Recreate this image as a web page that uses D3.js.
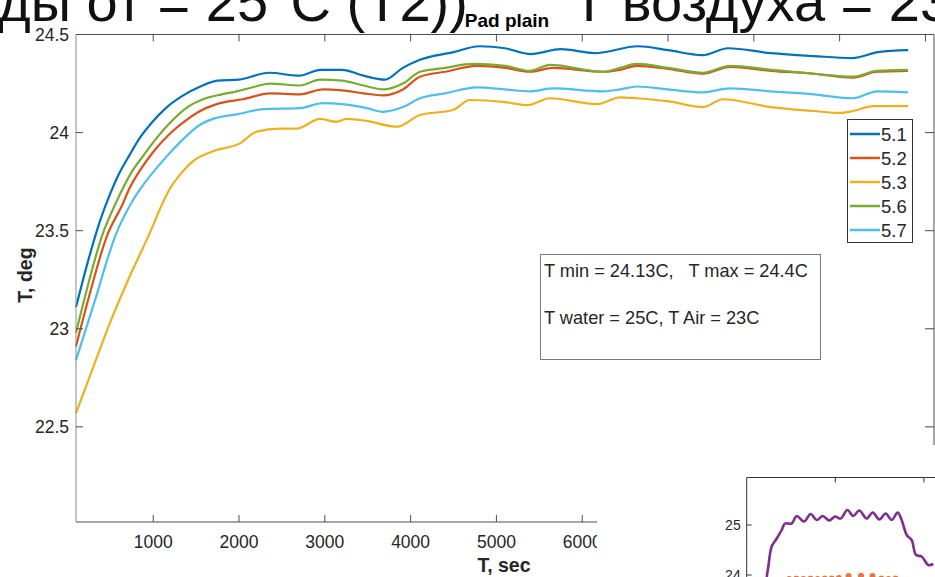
<!DOCTYPE html>
<html>
<head>
<meta charset="utf-8">
<script src="https://cdn.jsdelivr.net/npm/d3@7"></script>
<style>
  html, body { margin: 0; padding: 0; background: #fff; }
  svg { display: block; font-family: "Liberation Sans", Arial, sans-serif; }
  text { white-space: pre; }
</style>
</head>
<body>
<svg id="chart" width="935" height="577"></svg>
<script>
// ---- Series: pad temperature (deg) over time (sec) for each sensor ----
const seriesNames = ["5.1", "5.2", "5.3", "5.6", "5.7"];
const seriesColors = ["#0072BD", "#D95319", "#EDB120", "#77AC30", "#4DBEEE"];

const time51 = [100, 250, 380, 500, 590, 730, 840, 982, 1160, 1350, 1550, 1750, 2000, 2350, 2700, 2950, 3200, 3450, 3700, 3910, 4100, 4500, 4800, 5100, 5400, 5750, 6150, 6650, 7000, 7400, 7700, 8200, 8700, 9150, 9450, 9800];
const temp51 = [23.11, 23.36, 23.55, 23.69, 23.78, 23.89, 23.97, 24.05, 24.13, 24.19, 24.235, 24.265, 24.27, 24.305, 24.29, 24.32, 24.32, 24.29, 24.27, 24.33, 24.37, 24.41, 24.44, 24.43, 24.40, 24.425, 24.405, 24.44, 24.42, 24.395, 24.43, 24.405, 24.39, 24.38, 24.41, 24.42];

const time52 = [100, 240, 458, 648, 706, 850, 997, 1196, 1390, 1507, 1778, 2046, 2361, 2711, 2979, 3200, 3450, 3678, 3910, 4109, 4400, 4774, 5100, 5391, 5660, 6242, 6440, 6638, 7000, 7408, 7722, 8200, 8700, 9156, 9436, 9797];
const temp52 = [22.91, 23.145, 23.47, 23.64, 23.70, 23.81, 23.90, 23.995, 24.065, 24.10, 24.15, 24.17, 24.20, 24.195, 24.22, 24.215, 24.20, 24.19, 24.22, 24.285, 24.31, 24.34, 24.33, 24.31, 24.33, 24.31, 24.32, 24.34, 24.325, 24.30, 24.335, 24.315, 24.30, 24.28, 24.31, 24.315];

const time53 = [100, 263, 496, 729, 962, 1114, 1196, 1312, 1464, 1697, 2011, 2206, 2478, 2672, 2944, 3139, 3255, 3488, 3841, 4109, 4494, 4692, 5077, 5357, 5625, 6172, 6440, 6638, 7000, 7408, 7641, 8200, 8700, 9004, 9156, 9389, 9797];
const temp53 = [22.57, 22.76, 23.03, 23.27, 23.49, 23.645, 23.715, 23.785, 23.855, 23.905, 23.945, 24.005, 24.02, 24.02, 24.07, 24.055, 24.07, 24.06, 24.03, 24.09, 24.115, 24.166, 24.157, 24.14, 24.175, 24.145, 24.18, 24.175, 24.16, 24.13, 24.17, 24.13, 24.11, 24.10, 24.11, 24.135, 24.135];

const time56 = [100, 250, 400, 574, 750, 881, 1000, 1196, 1400, 1580, 1800, 1973, 2150, 2361, 2711, 2944, 3200, 3450, 3678, 3910, 4109, 4400, 4727, 5100, 5391, 5625, 6242, 6440, 6638, 7000, 7408, 7722, 8200, 8700, 9156, 9436, 9797];
const temp56 = [22.98, 23.24, 23.47, 23.65, 23.80, 23.88, 23.95, 24.05, 24.13, 24.17, 24.195, 24.21, 24.23, 24.25, 24.24, 24.27, 24.265, 24.24, 24.22, 24.25, 24.31, 24.33, 24.35, 24.34, 24.315, 24.345, 24.31, 24.33, 24.35, 24.33, 24.305, 24.34, 24.32, 24.30, 24.285, 24.315, 24.32];

const time57 = [100, 321, 555, 764, 846, 1160, 1312, 1545, 1697, 2000, 2280, 2711, 2979, 3200, 3488, 3678, 3910, 4109, 4400, 4774, 5100, 5391, 5660, 6242, 6440, 6638, 7000, 7408, 7722, 8200, 8700, 9156, 9436, 9797];
const temp57 = [22.84, 23.145, 23.47, 23.655, 23.71, 23.88, 23.95, 24.04, 24.07, 24.095, 24.12, 24.125, 24.15, 24.145, 24.125, 24.106, 24.13, 24.175, 24.20, 24.23, 24.22, 24.21, 24.225, 24.21, 24.22, 24.235, 24.22, 24.205, 24.225, 24.21, 24.195, 24.175, 24.21, 24.205];

const seriesTimes = [time51, time52, time53, time56, time57];
const seriesTemps = [temp51, temp52, temp53, temp56, temp57];

// Axis ticks
const xTicks = [1000, 2000, 3000, 4000, 5000, 6000, 7000, 8000, 9000, 10000];
const xTickLabels = ["1000", "2000", "3000", "4000", "5000", "6000", "7000", "8000", "9000", "10000"];
const yTicks = [22.5, 23, 23.5, 24, 24.5];
const yTickLabels = ["22.5", "23", "23.5", "24", "24.5"];

// Text
const headerLeft = "ды от = 25°С (Т2))";
const headerRight = "Т воздуха = 23°С";
const titleText = "Pad plain";
const xLabel = "T, sec";
const yLabel = "T, deg";
const noteLines = ["T min = 24.13C,   T max = 24.4C", "T water = 25C, T Air = 23C"];

// ---- Second figure peeking in at the lower right ----
const insetTime = [226, 244, 282, 339, 395, 432, 508, 564, 647, 722, 790, 858, 932, 997, 1061, 1136, 1203, 1271, 1354, 1422, 1497, 1569, 1637, 1704, 1749, 1806, 1862, 1911, 1975, 2050, 2106];
const insetTemp = [23.96, 24.17, 24.57, 24.73, 24.9, 25.03, 25.03, 25.18, 25.07, 25.22, 25.10, 25.18, 25.09, 25.17, 25.13, 25.30, 25.18, 25.29, 25.13, 25.25, 25.11, 25.23, 25.10, 25.25, 25.10, 24.80, 24.70, 24.40, 24.37, 24.20, 24.22];
const insetDotTime = [480, 560, 640, 720, 800, 880, 960, 1040, 1150, 1290, 1420, 1520, 1600, 1680];
const insetDotTemp = [23.92, 23.93, 23.92, 23.93, 23.92, 23.93, 23.93, 23.94, 23.98, 23.985, 23.98, 23.93, 23.92, 23.93];
const insetYTicks = [24, 25];
const insetYTickLabels = ["24", "25"];
const insetXTicks = [1000, 2000];

const svg = d3.select("#chart");
const axisColor = "#4d4d4d";
const textColor = "#262626";

// Scales of the main axes
const x = d3.scaleLinear().domain([100, 10100]).range([76, 934]);
const y = d3.scaleLinear().domain([22.015, 24.5]).range([522, 34.5]);

// Header line (upper part cut off by the page edge)
svg.append("text")
  .attr("x", -2).attr("y", 21)
  .attr("font-size", 56)
  .attr("fill", "#111")
  .text(headerLeft);
svg.append("text")
  .attr("x", 572).attr("y", 21)
  .attr("font-size", 56)
  .attr("fill", "#111")
  .text(headerRight);

// Title
svg.append("text")
  .attr("x", (x.range()[0] + x.range()[1]) / 2 + 2).attr("y", 27)
  .attr("text-anchor", "middle")
  .attr("font-size", 19).attr("font-weight", "bold")
  .attr("fill", "#000")
  .text(titleText);

const plot = svg.append("g");

// Series lines
const line = d3.line()
  .x(d => x(d[0]))
  .y(d => y(d[1]))
  .curve(d3.curveMonotoneX);

seriesNames.forEach((name, i) => {
  const pts = seriesTimes[i].map((t, j) => [t, seriesTemps[i][j]]);
  plot.append("path")
    .datum(pts)
    .attr("fill", "none")
    .attr("stroke", seriesColors[i])
    .attr("stroke-width", 2.2)
    .attr("stroke-linejoin", "round")
    .attr("d", line);
});

// Axes box
const [x0, x1] = x.range();
const [yb, yt] = y.range();
const axes = svg.append("g").attr("stroke-width", 1);
axes.append("line").attr("x1", x0).attr("x2", x1).attr("y1", yt).attr("y2", yt).attr("stroke", axisColor);
axes.append("line").attr("x1", x0).attr("x2", x1).attr("y1", yb).attr("y2", yb).attr("stroke", axisColor);
axes.append("line").attr("x1", x0).attr("x2", x0).attr("y1", yt).attr("y2", yb).attr("stroke", "#8c8c8c");
axes.append("line").attr("x1", x1).attr("x2", x1).attr("y1", yt).attr("y2", yb).attr("stroke", axisColor);

// x ticks (inward, bottom and top) and labels
xTicks.forEach((t, i) => {
  const px = x(t);
  axes.append("line").attr("x1", px).attr("x2", px).attr("y1", yb).attr("y2", yb - 7).attr("stroke", axisColor);
  axes.append("line").attr("x1", px).attr("x2", px).attr("y1", yt).attr("y2", yt + 7).attr("stroke", axisColor);
  axes.append("text")
    .attr("x", px).attr("y", 548)
    .attr("text-anchor", "middle")
    .attr("font-size", 17.5).attr("fill", textColor)
    .text(xTickLabels[i]);
});

// y ticks (inward, left and right) and labels
yTicks.forEach((v, i) => {
  const py = y(v);
  axes.append("line").attr("x1", x0).attr("x2", x0 + 7).attr("y1", py).attr("y2", py).attr("stroke", axisColor);
  axes.append("line").attr("x1", x1).attr("x2", x1 - 9).attr("y1", py).attr("y2", py).attr("stroke", axisColor);
  axes.append("text")
    .attr("x", 69).attr("y", py).attr("dy", "0.36em")
    .attr("text-anchor", "end")
    .attr("font-size", 17.5).attr("fill", textColor)
    .text(yTickLabels[i]);
});

// Axis labels
svg.append("text")
  .attr("x", 504).attr("y", 572)
  .attr("text-anchor", "middle")
  .attr("font-size", 19.5).attr("font-weight", "bold").attr("fill", textColor)
  .text(xLabel);
svg.append("text")
  .attr("transform", "translate(32,275) rotate(-90)")
  .attr("text-anchor", "middle")
  .attr("font-size", 19.5).attr("font-weight", "bold").attr("fill", textColor)
  .text(yLabel);

// Note box
const note = svg.append("g");
note.append("rect")
  .attr("x", 540.5).attr("y", 254.5).attr("width", 280).attr("height", 105)
  .attr("fill", "#fff").attr("stroke", "#7a7a7a");
noteLines.forEach((s, i) => {
  note.append("text")
    .attr("x", 544).attr("y", i === 0 ? 277 : 324)
    .attr("font-size", 18.2).attr("fill", textColor)
    .text(s);
});

// Legend
const legend = svg.append("g");
legend.append("rect")
  .attr("x", 847.5).attr("y", 119.5).attr("width", 65).attr("height", 123)
  .attr("fill", "#fff").attr("stroke", "#333");
seriesNames.forEach((name, i) => {
  const ly = 134 + i * 24;
  legend.append("line")
    .attr("x1", 850).attr("x2", 880).attr("y1", ly).attr("y2", ly)
    .attr("stroke", seriesColors[i]).attr("stroke-width", 2.5);
  legend.append("text")
    .attr("x", 881).attr("y", ly).attr("dy", "0.36em")
    .attr("font-size", 18.5).attr("fill", textColor)
    .text(name);
});

// ---- Second figure (lower right) ----
const inset = svg.append("g");
inset.append("rect").attr("x", 597).attr("y", 445).attr("width", 340).attr("height", 140).attr("fill", "#fff");
const ix = d3.scaleLinear().domain([0, 3000]).range([746.7, 1012.5]);
const iy = d3.scaleLinear().domain([23.5, 25.95]).range([600, 477.5]);

inset.append("path")
  .datum(insetTime.map((t, j) => [t, insetTemp[j]]))
  .attr("fill", "none")
  .attr("stroke", "#7E2F8E")
  .attr("stroke-width", 2.6)
  .attr("stroke-linejoin", "round")
  .attr("d", d3.line().x(d => ix(d[0])).y(d => iy(d[1])).curve(d3.curveCatmullRom));

inset.selectAll("circle")
  .data(insetDotTime.map((t, j) => [t, insetDotTemp[j]]))
  .join("circle")
  .attr("cx", d => ix(d[0])).attr("cy", d => iy(d[1]))
  .attr("r", 3).attr("fill", "#E8743B");

const ia = inset.append("g");
ia.append("line").attr("x1", ix(0)).attr("x2", 935).attr("y1", iy.range()[1]).attr("y2", iy.range()[1]).attr("stroke", "#333");
ia.append("line").attr("x1", ix(0)).attr("x2", ix(0)).attr("y1", iy.range()[1]).attr("y2", 577).attr("stroke", "#333");
insetXTicks.forEach(t => {
  ia.append("line").attr("x1", ix(t)).attr("x2", ix(t)).attr("y1", iy.range()[1]).attr("y2", iy.range()[1] + 5).attr("stroke", "#333");
});
insetYTicks.forEach((v, i) => {
  ia.append("line").attr("x1", ix(0)).attr("x2", ix(0) + 5).attr("y1", iy(v)).attr("y2", iy(v)).attr("stroke", "#333");
  ia.append("text")
    .attr("x", ix(0) - 6).attr("y", iy(v)).attr("dy", "0.36em")
    .attr("text-anchor", "end")
    .attr("font-size", 14).attr("fill", textColor)
    .text(insetYTickLabels[i]);
});
</script>
</body>
</html>
